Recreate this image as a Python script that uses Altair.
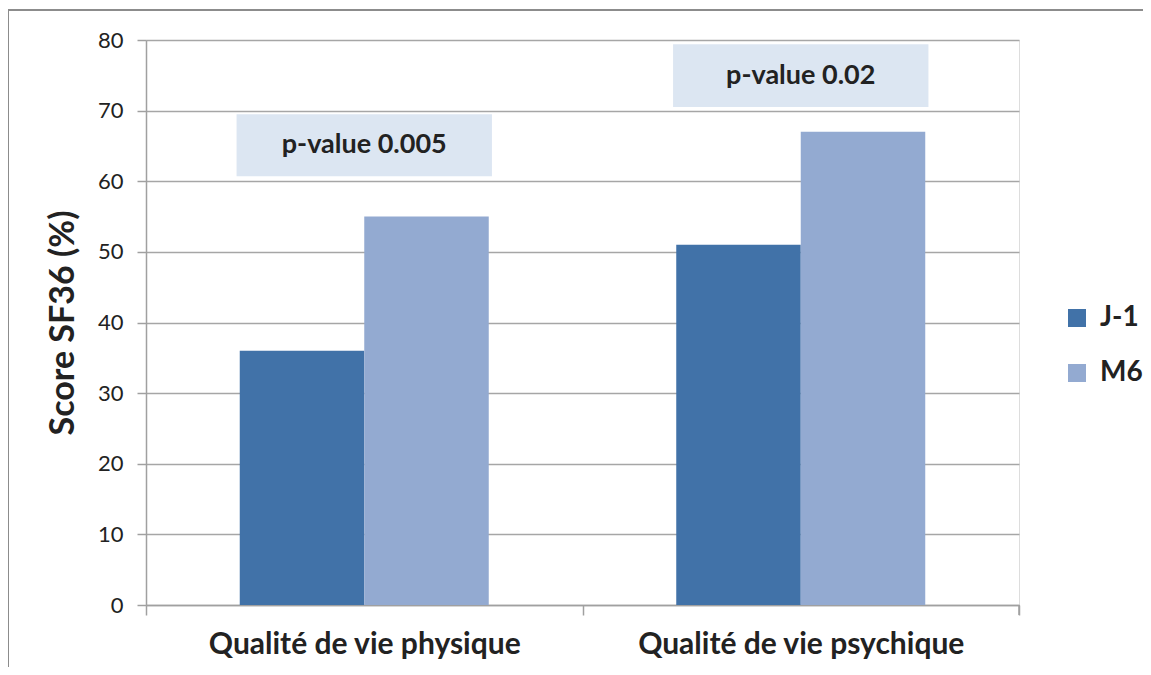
import altair as alt
import pandas as pd

categories = ["Qualité de vie physique", "Qualité de vie psychique"]
series = ["J-1", "M6"]
j1_values = [36, 51]
m6_values = [55, 67]
pvalue_labels = ["p-value 0.005", "p-value 0.02"]
box_low = [60.7, 70.5]
box_high = [69.5, 79.4]
colors = ["#4172a8", "#93aad1"]

FONT = "Lato"
TXT = "#222222"

rows = []
for c, a, b in zip(categories, j1_values, m6_values):
    rows.append({"cat": c, "serie": "J-1", "val": a})
    rows.append({"cat": c, "serie": "M6", "val": b})
bars_df = pd.DataFrame(rows)

box_df = pd.DataFrame({
    "cat": categories,
    "label": pvalue_labels,
    "lo": box_low,
    "hi": box_high,
})
box_df["mid"] = (box_df["lo"] + box_df["hi"]) / 2

W, H = 873, 565

xscale = alt.Scale(domain=categories, paddingInner=0, paddingOuter=0)
yscale = alt.Scale(domain=[0, 80])

bars = alt.Chart(bars_df).mark_bar(stroke=None).encode(
    x=alt.X("cat:N", scale=xscale, sort=categories,
            axis=alt.Axis(title=None, labelFont=FONT, labelFontSize=30, labelFontWeight="bold",
                          labelColor=TXT, labelPadding=29, labelLimit=0, labelAlign="center",
                          labelBaseline="middle", tickBand="extent", tickSize=10,
                          tickColor="#a0a0a0", tickWidth=1.5, domainColor="#a0a0a0",
                          domainWidth=1.5, labelAngle=0, grid=False)),
    xOffset=alt.XOffset("serie:N", scale=alt.Scale(domain=series, paddingInner=0, paddingOuter=0.753)),
    y=alt.Y("val:Q", scale=yscale,
            axis=alt.Axis(title="Score SF36 (%)", titleFont=FONT, titleFontSize=34,
                          titleFontWeight="bold", titleColor=TXT, titlePadding=17,
                          labelFont=FONT, labelFontSize=22, labelColor=TXT, labelPadding=14,
                          values=list(range(0, 81, 10)), tickSize=9, tickColor="#a0a0a0",
                          tickWidth=1.5, domainColor="#a0a0a0", domainWidth=1.5,
                          grid=True, gridColor="#a6a6a6", gridWidth=1.5)),
    color=alt.Color("serie:N", scale=alt.Scale(domain=series, range=colors),
                    legend=alt.Legend(title=None, orient="none", legendX=917, legendY=264,
                                      symbolType="square", symbolSize=324, symbolStrokeWidth=0,
                                      labelFont=FONT, labelFontSize=28, labelFontWeight="bold",
                                      labelColor=TXT, rowPadding=27, labelOffset=9)),
)

boxes = alt.Chart(box_df).mark_bar(color="#dce6f2", width={"band": 0.585}).encode(
    x=alt.X("cat:N", scale=xscale, sort=categories),
    y=alt.Y("lo:Q", scale=yscale),
    y2="hi:Q",
)

box_text = alt.Chart(box_df).mark_text(font=FONT, fontSize=27, fontWeight="bold", color=TXT).encode(
    x=alt.X("cat:N", scale=xscale, sort=categories),
    y=alt.Y("mid:Q", scale=yscale),
    text="label:N",
)

end_tick = alt.Chart(box_df.head(1)).mark_rule(color="#a0a0a0", strokeWidth=1.5).encode(
    x=alt.value(W), y=alt.value(H), y2=alt.value(H + 10)
)
border_left = alt.Chart(box_df.head(1)).mark_rule(color="#8c8c8c", strokeWidth=2).encode(
    x=alt.value(-138), y=alt.value(-30), y2=alt.value(H + 80)
)
border_top = alt.Chart(box_df.head(1)).mark_rule(color="#8c8c8c", strokeWidth=2).encode(
    x=alt.value(-138), x2=alt.value(W + 140), y=alt.value(-30)
)

chart = alt.layer(boxes, box_text, bars, end_tick, border_left, border_top).properties(
    width=W, height=H,
    padding={"left": 138, "top": 32, "right": 124, "bottom": 62},
    autosize=alt.AutoSizeParams(type="none"),
).configure_view(stroke=None).configure(background="white")

chart.save("out.html", embed_options={"renderer": "svg", "actions": False})
